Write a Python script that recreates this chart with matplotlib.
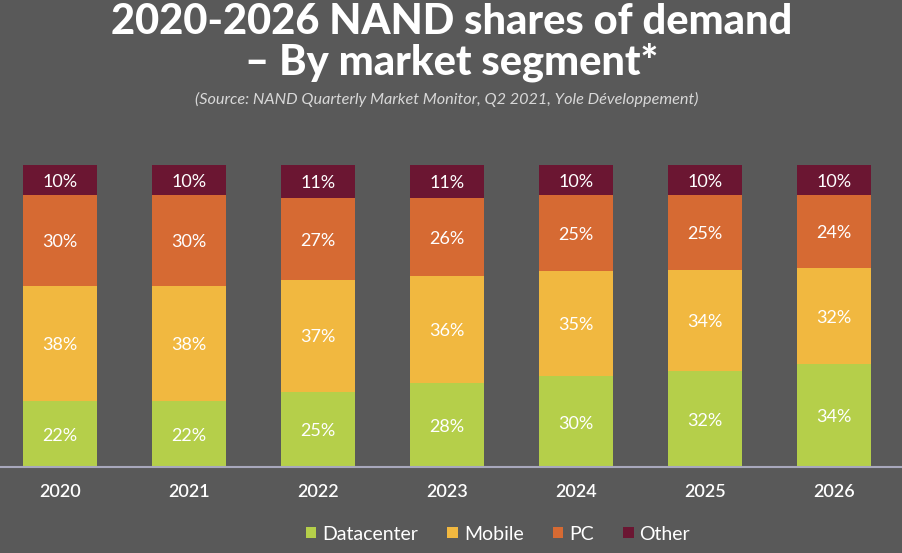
import matplotlib.pyplot as plt
import numpy as np
from matplotlib.patches import Patch

years = ['2020', '2021', '2022', '2023', '2024', '2025', '2026']
segments = ['Datacenter', 'Mobile', 'PC', 'Other']
datacenter = [22, 22, 25, 28, 30, 32, 34]
mobile = [38, 38, 37, 36, 35, 34, 32]
pc = [30, 30, 27, 26, 25, 25, 24]
other = [10, 10, 11, 11, 10, 10, 10]

colors = ['#b5cf4a', '#f1b840', '#d66a33', '#6b1632']
bg = '#595959'
font = 'Lato'

fig = plt.figure(figsize=(9.03, 5.53), dpi=100, facecolor=bg)
ax = fig.add_axes([0, 86 / 553, 1, 302 / 553])
ax.set_facecolor(bg)

x = np.arange(len(years))
# bars are drawn as shares of the (rounded) total so every column reaches 100%
totals = np.array(datacenter) + np.array(mobile) + np.array(pc) + np.array(other)
bottom = np.zeros(len(years))
for vals, col in zip([datacenter, mobile, pc, other], colors):
    vals = np.array(vals, dtype=float)
    h = vals / totals * 100
    ax.bar(x, h, 0.574, bottom=bottom, color=col, linewidth=0)
    for xi, b, hh, v in zip(x, bottom, h, vals):
        ax.text(xi, b + hh / 2 - 0.6, f'{int(v)}%', ha='center', va='center',
                color='white', fontsize=13, family=font)
    bottom += h

ax.set_xlim(-60 / 129, 6 + 69 / 129)
ax.set_ylim(0, 100)
ax.axhline(0, color='#a8a8bc', lw=1.5, clip_on=False)
for s in ax.spines.values():
    s.set_visible(False)
ax.set_yticks([])
ax.set_xticks(x)
ax.set_xticklabels(years, color='white', fontsize=13, family=font, fontweight='semibold')
ax.tick_params(axis='x', length=0, pad=12)

fig.text(0.5, 1 - 22 / 553, '2020-2026 NAND shares of demand', ha='center', va='center',
         color='white', fontsize=30, fontweight='black', family=font)
fig.text(0.5, 1 - 62 / 553, '– By market segment*', ha='center', va='center',
         color='white', fontsize=30, fontweight='black', family=font)
fig.text(0.495, 1 - 99 / 553,
         '(Source: NAND Quarterly Market Monitor, Q2 2021, Yole Développement)',
         ha='center', va='center', color='#d8d8d8', fontsize=11.7, style='italic',
         family=font)

handles = [Patch(facecolor=c, edgecolor='none') for c in colors]
leg = fig.legend(handles, segments, loc='center', bbox_to_anchor=(498 / 903, 19 / 553), ncol=4,
                 frameon=False, handlelength=0.55, handleheight=0.55, handletextpad=0.3,
                 columnspacing=1.5, prop={'family': font, 'size': 14})
for t in leg.get_texts():
    t.set_color('white')

fig.savefig('out.png', dpi=100, facecolor=bg)
